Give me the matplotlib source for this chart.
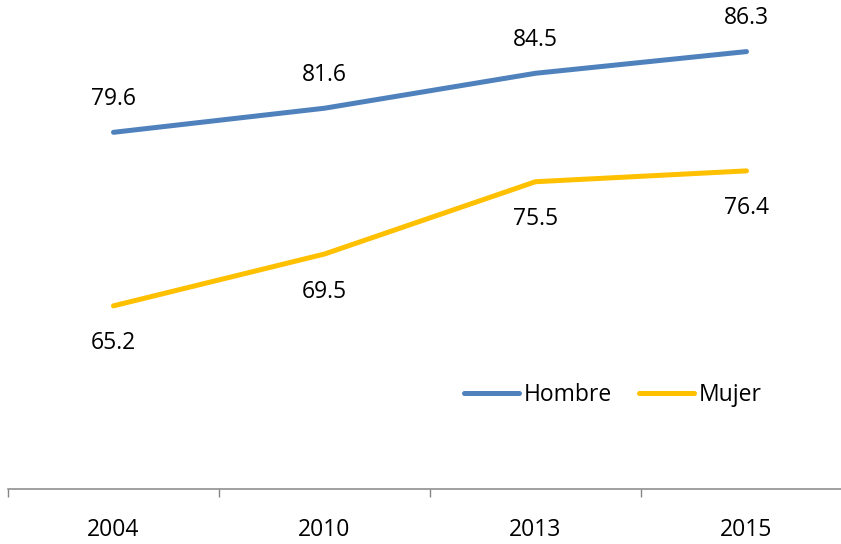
import matplotlib
matplotlib.use("Agg")
import matplotlib.pyplot as plt
from matplotlib.ticker import FixedLocator

years = ["2004", "2010", "2013", "2015"]
hombre = [79.6, 81.6, 84.5, 86.3]
mujer = [65.2, 69.5, 75.5, 76.4]

plt.rcParams['font.family'] = ['Open Sans', 'DejaVu Sans']
FS = 16.5

W, H = 841, 544
fig = plt.figure(figsize=(W / 100, H / 100), dpi=100)
ax = fig.add_axes([8 / W, 1 - 489 / H, 844 / W, (489 - 7) / H])

x = list(range(len(years)))
blue = "#4F81BD"
gold = "#FFC000"
ax.plot(x, hombre, color=blue, lw=3.6, solid_capstyle='round', label="Hombre")
ax.plot(x, mujer, color=gold, lw=3.6, solid_capstyle='round', label="Mujer")

for xi, v in zip(x, hombre):
    ax.annotate(f"{v:.1f}", (xi, v), xytext=(0, 24), textcoords='offset points',
                ha='center', va='center', fontsize=FS, color='black')
for xi, v in zip(x, mujer):
    ax.annotate(f"{v:.1f}", (xi, v), xytext=(0, -27), textcoords='offset points',
                ha='center', va='center', fontsize=FS, color='black')

ax.set_xlim(-0.5, len(years) - 0.5)
ax.set_ylim(50, 90)
ax.set_yticks([])
ax.set_xticks(x)
ax.set_xticklabels(years, fontsize=FS)
ax.tick_params(axis='x', which='major', length=0, pad=21)
ax.xaxis.set_minor_locator(FixedLocator([i - 0.5 for i in range(len(years) + 1)]))
ax.tick_params(axis='x', which='minor', length=6, width=1, color='#868686', direction='out')

for s in ['top', 'right', 'left']:
    ax.spines[s].set_visible(False)
ax.spines['bottom'].set_color('#868686')
ax.spines['bottom'].set_linewidth(1.1)

leg = fig.legend(loc='center', bbox_to_anchor=(613 / W, 1 - 395 / H), ncol=2, frameon=False,
                 fontsize=FS, handlelength=2.4, handletextpad=0.2, columnspacing=1.2)

fig.savefig("out.png", dpi=100)
